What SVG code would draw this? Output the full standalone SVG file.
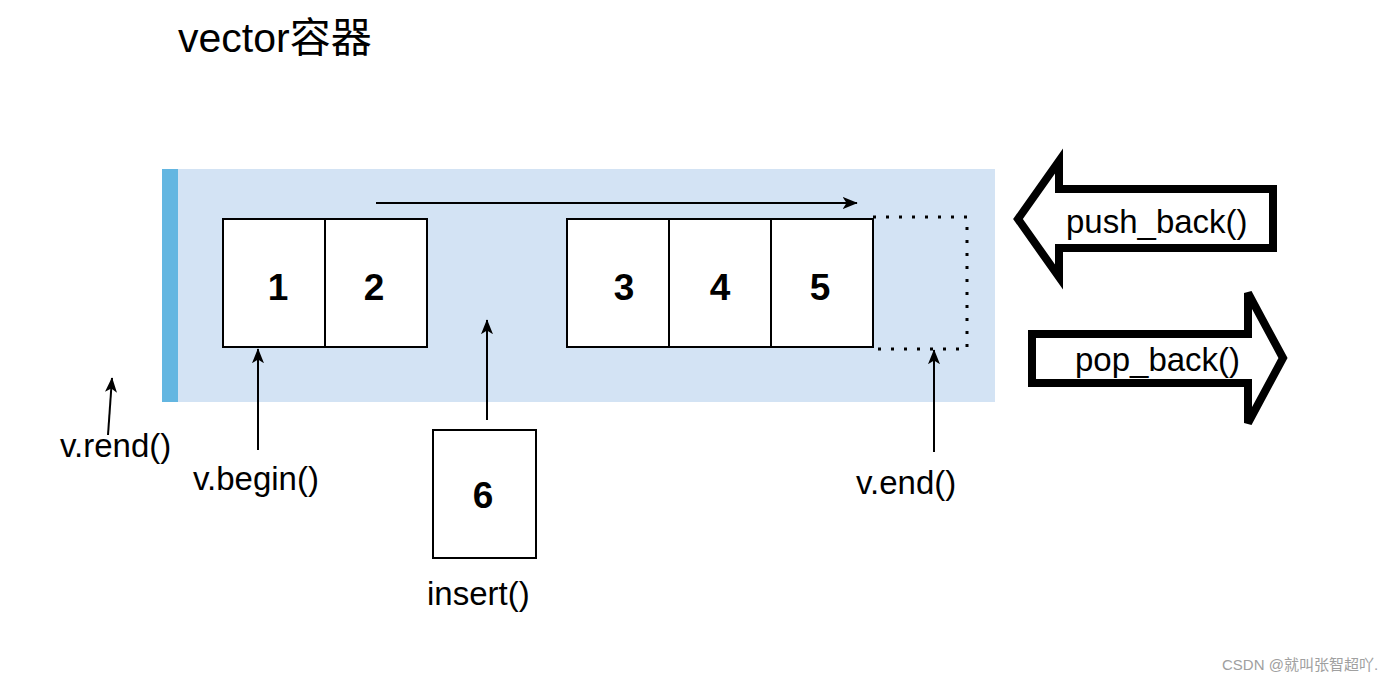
<svg xmlns="http://www.w3.org/2000/svg" width="1400" height="680" viewBox="0 0 1400 680">
<style>
.t{font-family:"Liberation Sans",Arial,"Noto Sans CJK SC",sans-serif;fill:#000}
.lbl{font-size:33px}
.num{font-size:37px;font-weight:bold;text-anchor:middle}
.cell{fill:#fff;stroke:#000;stroke-width:2}
.ln{stroke:#000;stroke-width:2;fill:none}
.blk{fill:#fff;stroke:#000;stroke-width:8;stroke-linejoin:miter}
</style>
<defs>
<marker id="ah" viewBox="0 0 20 16" refX="19" refY="8" markerWidth="15" markerHeight="12" markerUnits="userSpaceOnUse" orient="auto">
<path d="M0,0 L20,8 L0,16 L5,8 Z" fill="#000"/>
</marker>
</defs>
<rect width="1400" height="680" fill="#fff"/>
<text class="t" x="178" y="52" style="font-size:41px">vector容器</text>
<g id="container">
<rect x="162" y="169" width="833" height="233" fill="#d3e3f4"/>
<rect x="162" y="169" width="16" height="233" fill="#63b6e1"/>
</g>
<g id="cells">
<rect class="cell" x="223" y="219" width="102" height="128"/>
<rect class="cell" x="325" y="219" width="102" height="128"/>
<rect class="cell" x="567" y="219" width="102" height="128"/>
<rect class="cell" x="669" y="219" width="102" height="128"/>
<rect class="cell" x="771" y="219" width="102" height="128"/>
<text class="t num" x="278" y="300">1</text>
<text class="t num" x="374" y="300">2</text>
<text class="t num" x="624" y="300">3</text>
<text class="t num" x="720" y="300">4</text>
<text class="t num" x="820" y="300">5</text>
</g>
<g id="end-slot">
<path d="M873,217 H967 V349 H873" fill="none" stroke="#000" stroke-width="3" stroke-dasharray="3 10"/>
</g>
<g id="cell6">
<rect class="cell" x="433" y="430" width="103" height="128"/>
<text class="t num" x="483" y="508">6</text>
</g>
<g id="connectors">
<line class="ln" x1="376" y1="203" x2="857" y2="203" marker-end="url(#ah)"/>
<line class="ln" x1="258" y1="450" x2="258" y2="349" marker-end="url(#ah)"/>
<line class="ln" x1="487" y1="420" x2="487" y2="320" marker-end="url(#ah)"/>
<line class="ln" x1="934" y1="452" x2="934" y2="350" marker-end="url(#ah)"/>
<line class="ln" x1="108" y1="435" x2="112" y2="378" marker-end="url(#ah)"/>
</g>
<g id="labels">
<text class="t lbl" x="60" y="457">v.rend()</text>
<text class="t lbl" x="193" y="490">v.begin()</text>
<text class="t lbl" x="427" y="605">insert()</text>
<text class="t lbl" x="856" y="494">v.end()</text>
</g>
<g id="push_back">
<polygon class="blk" points="1018,219 1059,161 1059,189 1273,189 1273,248 1059,248 1059,277"/>
<text class="t lbl" x="1066" y="233">push_back()</text>
</g>
<g id="pop_back">
<polygon class="blk" points="1283,358 1248,293 1248,334 1032,334 1032,383 1248,383 1248,423"/>
<text class="t lbl" x="1075" y="371">pop_back()</text>
</g>
<text x="1222" y="670" style="font-family:'Liberation Sans','Noto Sans CJK SC',sans-serif;font-size:15px;fill:#a0a0a0">CSDN @就叫张智超吖.</text>
</svg>
